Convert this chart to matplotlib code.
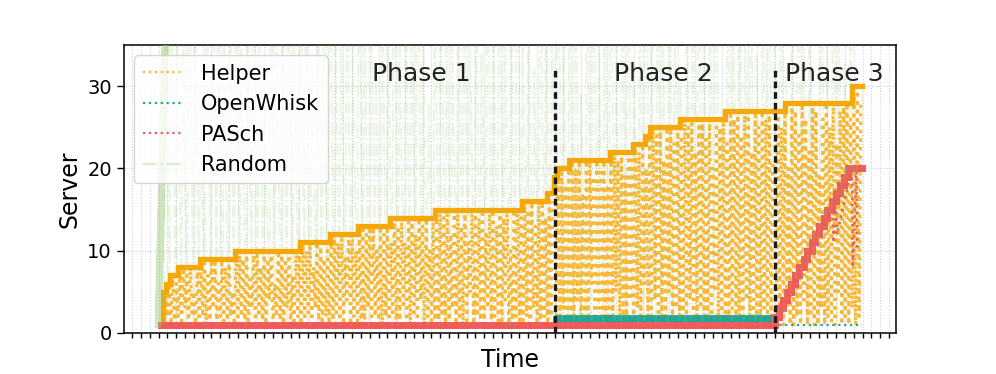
import numpy as np
import matplotlib
matplotlib.use('Agg')
import matplotlib.pyplot as plt
from matplotlib.lines import Line2D

# ---------------- data ----------------
series_names = ['Helper', 'OpenWhisk', 'PASch', 'Random']
phase_names = ['Phase 1', 'Phase 2', 'Phase 3']
phase_bounds = [48.0, 73.0]
phase_text_t = [32.9, 60.4, 79.8]
y_ticks = [0, 10, 20, 30]
y_tick_labels = ['0', '10', '20', '30']
x_ticks = list(range(0, 87))
x_tick_labels = [''] * len(x_ticks)

# Helper: upper envelope (step) and per-request oscillation
helper_top_t = [3.3, 3.5, 3.8, 4.3, 5.2, 7.7, 11.7, 19.1, 22.5, 25.6, 29.3, 34.4, 44.3,
                47.1, 47.9, 48.3, 49.6, 54.3, 56.9, 58.3, 58.8, 62.2, 67.4, 74.2, 81.8, 82.9]
helper_top_v = [1, 5, 6, 7, 8, 9, 10, 11, 12, 13, 14, 15, 16,
                17, 19, 20, 21, 22, 23, 24, 25, 26, 27, 28, 30, 30]

helper_p1_range = [3.6, 47.6]
helper_p1_peaks = [5, 6, 7, 6, 7,
                   8, 7, 8, 5, 8, 8,
                   9, 7, 9, 9, 6, 9, 8, 9, 5, 9,
                   10, 9, 10, 7, 10, 10, 8, 10, 9, 10, 6, 10, 10, 9, 10, 7, 10, 10,
                   11, 10, 11, 8, 11, 11, 9, 11, 11,
                   12, 11, 12, 9, 12, 12, 10, 12,
                   13, 12, 13, 13, 10, 13, 12, 13, 11,
                   14, 13, 14, 11, 14, 14, 12, 14, 13, 14, 10, 14, 14,
                   15, 14, 15, 12, 15, 15, 13, 15, 11, 15, 15, 14, 15, 12, 15, 15, 13, 15, 14, 15, 10, 15, 15, 14,
                   16, 15, 16, 13, 16, 16, 14,
                   17, 16]
helper_p1_lows = [1, 2, 1, 1, 2,
                  1, 3, 1, 2, 1, 1,
                  2, 1, 1, 3, 1, 2, 1, 1, 2, 1,
                  1, 2, 1, 1, 3, 1, 2, 1, 1, 4, 1, 2, 1, 1, 3, 1, 1, 2,
                  1, 1, 2, 1, 3, 1, 1, 2, 1,
                  1, 2, 1, 1, 4, 1, 2, 1,
                  1, 1, 3, 1, 2, 1, 1, 2, 1,
                  2, 1, 1, 3, 1, 1, 2, 1, 4, 1, 2, 1, 1,
                  1, 2, 1, 1, 3, 1, 2, 1, 1, 5, 1, 2, 1, 1, 3, 1, 2, 1, 1, 4, 1, 1, 2, 1,
                  1, 2, 1, 3, 1, 1, 2,
                  1, 2]

helper_p2_range = [48.2, 72.6]
helper_p2_peaks = [19,
                   20, 18, 20,
                   21, 20, 21, 17, 21, 21, 19, 21, 20, 21, 18, 21,
                   22, 21, 22, 19, 22, 22,
                   23, 22, 23, 20,
                   24,
                   25, 24, 25, 21, 25, 25, 23, 25, 24,
                   26, 25, 26, 22, 26, 26, 24, 26, 20, 26, 25, 26, 23,
                   27, 26, 27, 24, 27, 27, 22, 27, 25, 27, 26, 27, 21]
helper_p2_lows = [2,
                  1, 3, 1,
                  2, 1, 4, 1, 2, 1, 6, 1, 3, 1, 2, 1,
                  1, 5, 1, 2, 1, 4,
                  1, 3, 1, 6,
                  2,
                  1, 4, 1, 2, 1, 5, 1, 3, 1,
                  2, 1, 4, 1, 1, 3, 1, 2, 1, 5, 1, 2, 1,
                  1, 3, 1, 2, 1, 4, 1, 1, 2, 1, 3, 1, 2]

helper_p3_range = [73.2, 82.6]
helper_p3_peaks = [27, 25, 28, 20, 28, 27, 24, 28, 26, 22, 28, 27, 19, 26, 28, 25, 28, 23, 27, 28,
                   28, 26, 29, 30, 28]
helper_p3_lows = [1, 2, 1, 3, 1, 1, 2, 1, 4, 1, 2, 1, 1, 3, 1, 2, 1, 1, 5, 1, 2, 1, 3, 1, 2]

# OpenWhisk: oscillation band in phase 2, single server otherwise
ow_band_t = [48.0, 73.0]
ow_band_low = [1, 1]
ow_band_high = [2, 2]
ow_line_t = [3.3, 82.9]
ow_line_v = [1, 1]

# PASch: step line and a few oscillations in phase 3
pasch_t = [3.3, 73.0, 73.5, 74.0, 74.4, 74.9, 75.3, 75.8, 76.3, 76.7, 77.2, 77.6, 78.1,
           78.6, 79.0, 79.5, 80.0, 80.4, 80.9, 81.4, 82.9]
pasch_v = [1, 2, 3, 4, 5, 6, 7, 8, 9, 10, 11, 12, 13, 14, 15, 16, 17, 18, 19, 20, 20]
pasch_osc_t = [79.6, 79.7, 80.0, 80.1, 81.8, 81.9, 82.3, 82.4]
pasch_osc_v = [14, 11, 15, 12, 20, 8, 20, 10]

# Random: initial burst plus oscillation
random_burst_t = [2.9, 4.5, 2.95, 4.6, 3.0, 4.55]
random_burst_v = [1, 70, 1, 70, 1, 72]
random_range = [3.6, 82.8]
random_peaks = [48, 52, 40, 37, 55, 44, 30, 50, 61, 42,
                38, 47, 53, 36, 45, 58, 41, 26, 49, 39,
                54, 43, 37, 60, 46, 33, 51, 40, 57, 44,
                38, 48, 35, 52, 42, 59, 31, 46, 40, 55,
                37, 50, 43, 62, 39, 28, 47, 53, 41, 36,
                56, 45, 38, 49, 34, 58, 42, 51, 39, 46,
                60, 37, 44, 32, 53, 48, 40, 57, 35, 43,
                50, 29, 46, 55, 38, 41, 59, 36, 47, 52,
                33, 44, 61, 39, 48, 37, 54, 42, 30, 50,
                45, 58, 36, 41, 53, 27, 47, 40, 56, 38,
                49, 34, 43, 60, 37, 51, 31, 46, 55, 39,
                42, 28, 48, 35, 52, 40, 33, 45, 24, 30]
random_lows = [1, 2, 1, 3, 1, 1, 2, 1, 4, 1,
               2, 1, 1, 3, 1, 2, 1, 1, 2, 5,
               1, 1, 3, 1, 2, 1, 4, 1, 1, 2,
               1, 3, 1, 1, 2, 1, 6, 1, 2, 1,
               1, 2, 1, 4, 1, 1, 3, 1, 2, 1,
               3, 1, 1, 2, 1, 5, 1, 2, 1, 1,
               1, 2, 4, 1, 1, 3, 1, 2, 1, 2,
               1, 1, 2, 1, 5, 1, 3, 1, 1, 2,
               2, 1, 1, 4, 1, 2, 1, 3, 1, 1,
               1, 3, 1, 2, 1, 1, 6, 1, 2, 1,
               2, 1, 1, 3, 1, 2, 1, 4, 1, 1,
               1, 2, 1, 1, 3, 1, 2, 1, 1, 2]

# ---------------- style ----------------
C_HELPER = '#FFB733'
C_HELPER_TOP = '#FFA500'
C_OW = '#22A699'
C_PASCH = '#F05A5A'
C_RANDOM = '#93C872'


def zigzag(rng, lows, highs, dt):
    x = np.linspace(rng[0], rng[1], len(highs))
    xs = np.empty(2 * len(x))
    ys = np.empty(2 * len(x))
    xs[0::2] = x
    xs[1::2] = x + dt
    ys[0::2] = lows
    ys[1::2] = highs
    return xs, ys


fig = plt.figure(figsize=(9.96, 3.74), dpi=100)
ax = fig.add_axes([124 / 996, 41 / 374, 772 / 996, 288 / 374])

# Helper
for rng, lows, peaks in [(helper_p1_range, helper_p1_lows, helper_p1_peaks),
                         (helper_p2_range, helper_p2_lows, helper_p2_peaks),
                         (helper_p3_range, helper_p3_lows, helper_p3_peaks)]:
    xs, ys = zigzag(rng, lows, peaks, 0.2)
    ax.plot(xs, ys, linestyle=':', color=C_HELPER, lw=2.3, zorder=2)
ax.plot(helper_top_t, helper_top_v, drawstyle='steps-post', color=C_HELPER_TOP, lw=3.8,
        zorder=2.5, solid_joinstyle='miter')

# OpenWhisk
ax.plot(ow_line_t, ow_line_v, linestyle=':', color=C_OW, lw=1.6, zorder=3)
ax.fill_between(ow_band_t, ow_band_low, ow_band_high, color=C_OW, lw=3.5, zorder=3)

# PASch
ax.plot(pasch_t, pasch_v, drawstyle='steps-post', color=C_PASCH, lw=5, zorder=4,
        solid_joinstyle='miter')
ax.plot(pasch_osc_t, pasch_osc_v, linestyle=':', color=C_PASCH, lw=1.8, zorder=4)

# Random
ax.plot(random_burst_t, random_burst_v, color=C_RANDOM, alpha=0.45, lw=4.5, zorder=5)
xs, ys = zigzag(random_range, random_lows, random_peaks, 0.15)
ax.plot(xs, ys, linestyle='-.', color=C_RANDOM, alpha=0.2, lw=1.4, zorder=5)

# Phase separators and labels
for b in phase_bounds:
    ax.vlines(b, 0, 32.1, colors='#1a1a1a', linestyles=(0, (2.0, 1.2)), lw=2.4, zorder=6)
for name, t in zip(phase_names, phase_text_t):
    ax.text(t, 30.6, name, ha='center', va='baseline', fontsize=18, color='#222222', zorder=7)

# Axes
ax.set_xlim(-0.94, 86.8)
ax.set_ylim(0, 35)
ax.set_xticks(x_ticks)
ax.set_xticklabels(x_tick_labels)
ax.set_yticks(y_ticks)
ax.set_yticklabels(y_tick_labels)
ax.tick_params(axis='y', labelsize=14, length=5.2, width=1.0)
ax.tick_params(axis='x', length=3.6, width=1.0)
ax.grid(True, linestyle=':', color='#cfcfcf', lw=0.8)
ax.set_axisbelow(True)
for s in ax.spines.values():
    s.set_linewidth(1.1)
ax.set_xlabel('Time', fontsize=17)
ax.set_ylabel('Server', fontsize=17)

handles = [Line2D([], [], color=C_HELPER, linestyle=':', lw=1.6),
           Line2D([], [], color=C_OW, linestyle=':', lw=1.6),
           Line2D([], [], color=C_PASCH, linestyle=':', lw=1.6),
           Line2D([], [], color=C_RANDOM, linestyle='-.', lw=1.6, alpha=0.3)]
leg = ax.legend(handles, series_names, loc='upper left', fontsize=15, framealpha=0.8)
leg.set_zorder(10)

fig.savefig('out.png', dpi=100)
